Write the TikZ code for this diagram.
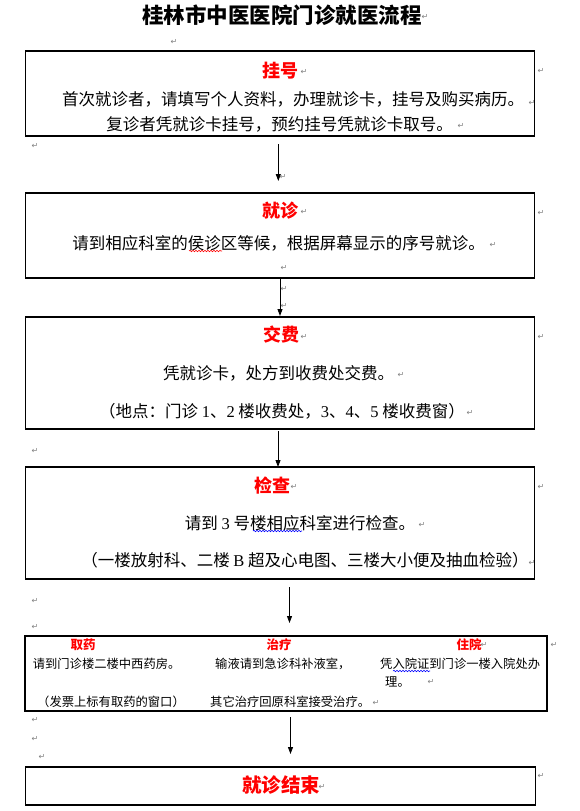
\documentclass[tikz,border=0pt]{standalone}
\usepackage{fontspec}
\setmainfont{Noto Sans CJK SC}
\newfontfamily\lat{Liberation Serif}
\newfontfamily\sym{DejaVu Sans}
\usetikzlibrary{arrows.meta,decorations.pathmorphing}
\tikzset{
  box/.style={draw, line width=1.1pt, inner sep=0pt},
  ttl/.style={text=red, font=\bfseries\fontsize{18}{20}\selectfont, inner sep=0pt},
  stl/.style={text=red, font=\bfseries\fontsize{12.5}{14}\selectfont, inner sep=0pt},
  bodyt/.style={font=\fontsize{16.5}{18}\selectfont, inner sep=0pt},
  smallt/.style={font=\fontsize{12.3}{14}\selectfont, inner sep=0pt, anchor=west},
  pm/.style={text=gray, font=\sym\fontsize{8}{9}\selectfont, inner sep=0pt},
  arr/.style={-{Triangle[length=7pt,width=5pt]}, line width=0.9pt},
  wavy/.style={decorate, decoration={snake, amplitude=0.7pt, segment length=3pt}, line width=0.6pt}
}
\begin{document}
\begin{tikzpicture}[x=1pt,y=-1pt]
\useasboundingbox (0,0) rectangle (579,811);
% title
\node[font=\bfseries\fontsize{21.5}{24}\selectfont, inner sep=0pt] (title) at (282,15) {桂林市中医医院门诊就医流程};
% boxes
\node[box, minimum width=509pt, minimum height=85pt] (b1) at (280,93.5) {};
\node[box, minimum width=509pt, minimum height=85pt] (b2) at (280,235.5) {};
\node[box, minimum width=509pt, minimum height=112pt] (b3) at (280,373) {};
\node[box, minimum width=509pt, minimum height=112pt] (b4) at (280,523) {};
\node[box, minimum width=522pt, minimum height=75pt] (b5) at (286,673.5) {};
\node[box, minimum width=510pt, minimum height=38pt] (b6) at (280.5,786) {};
% box 1
\node[ttl] (t1) at (280.7,71) {挂号};
\node[bodyt] (l11) at (293,99) {首次就诊者，请填写个人资料，办理就诊卡，挂号及购买病历。};
\node[bodyt] (l12) at (279.5,124) {复诊者凭就诊卡挂号，预约挂号凭就诊卡取号。};
% box 2
\node[ttl] (t2) at (280.7,211) {就诊};
\node[bodyt] (l21) at (278.6,243) {请到相应科室的侯诊区等候，根据屏幕显示的序号就诊。};
% box 3
\node[ttl] (t3) at (281,335) {交费};
\node[bodyt] (l31) at (278.6,373) {凭就诊卡，处方到收费处交费。};
\node[bodyt] (l32) at (282,411) {（地点：门诊 {\lat 1}、{\lat 2} 楼收费处，{\lat 3}、{\lat 4}、{\lat 5} 楼收费窗）};
% box 4
\node[ttl] (t4) at (272,486) {检查};
\node[bodyt] (l41) at (300,523) {请到 {\lat 3} 号楼相应科室进行检查。};
\node[bodyt] (l42) at (305,560) {（一楼放射科、二楼 {\lat B} 超及心电图、三楼大小便及抽血检验）};
% box 5
\node[stl] (t5a) at (83,645) {取药};
\node[stl] (t5b) at (279,645) {治疗};
\node[stl] (t5c) at (469,645) {住院};
\node[smallt] (l51) at (32.6,664) {请到门诊楼二楼中西药房。};
\node[smallt] (l52) at (215,664) {输液请到急诊科补液室，};
\node[smallt] (l53) at (380,664) {凭入院证到门诊一楼入院处办};
\node[smallt] (l54) at (385,682) {理。};
\node[smallt] (l55) at (37,702) {（发票上标有取药的窗口）};
\node[smallt] (l56) at (210,702) {其它治疗回原科室接受治疗。};
% box 6
\node[text=red, font=\bfseries\fontsize{19.5}{22}\selectfont, inner sep=0pt] (t6) at (281,785) {就诊结束};
% wavy underlines
\draw[wavy, red] (189,251) -- (222,251);
\draw[wavy, blue] (253,531) -- (302,531);
\draw[wavy, blue] (393,671) -- (430,671);
% arrows
\coordinate (a1s) at (278.3,144); \coordinate (a1e) at (278.3,181);
\coordinate (a2s) at (280,278);   \coordinate (a2e) at (280,316);
\coordinate (a3s) at (278,431);   \coordinate (a3e) at (278,467);
\coordinate (a4s) at (289.5,587); \coordinate (a4e) at (289.5,623);
\coordinate (a5s) at (290.5,717); \coordinate (a5e) at (290.5,754);
\draw[arr] (a1s) -- (a1e);
\draw[arr] (a2s) -- (a2e);
\draw[arr] (a3s) -- (a3e);
\draw[arr] (a4s) -- (a4e);
\draw[arr] (a5s) -- (a5e);
% paragraph marks
\foreach \px/\py [count=\i] in {425/17,174/42,304/72,541/71,532/103,461/126,35/146,283/177,
  304/212,541/213,493/245,284/268,284/289,284/306,
  304/337,541/337,401/375,470/413,35/451,
  294/487,541/487,422/525,532/563,35/601,35/627,
  484/645,554/645,431/682,376/703,35/720,35/739,42/757,
  322/787,541/776}
  \node[pm] (pm\i) at (\px,\py) {↵};
\end{tikzpicture}
\end{document}
